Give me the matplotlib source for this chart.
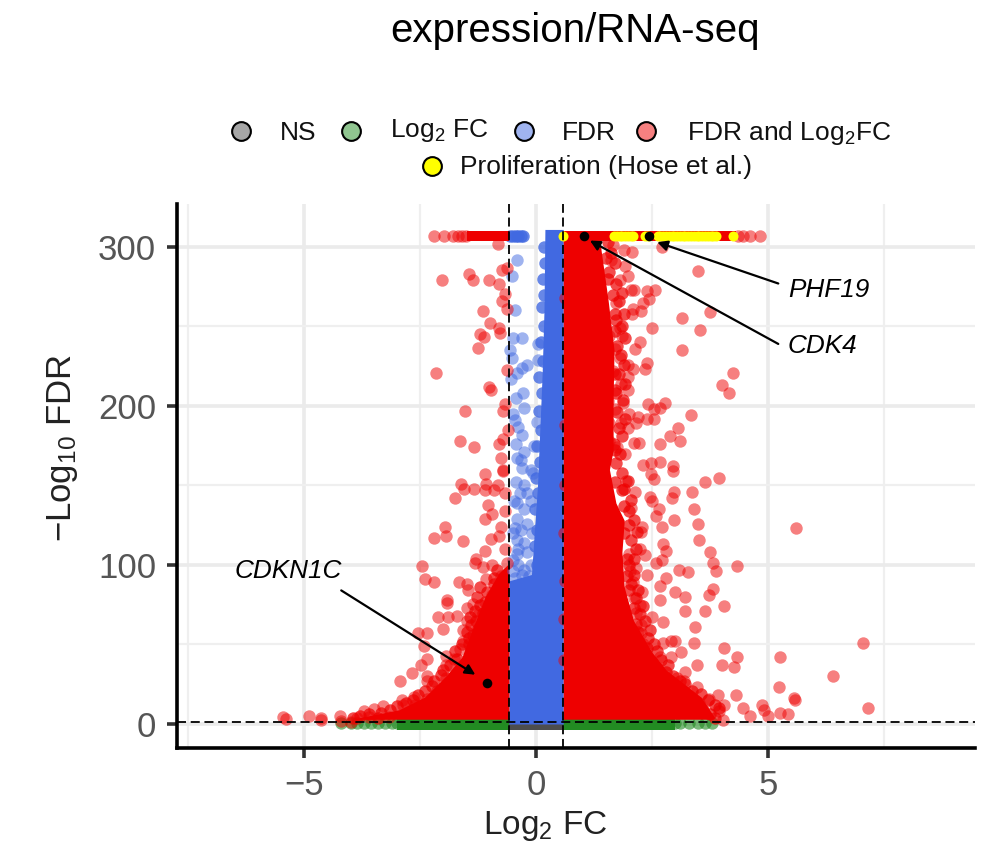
import numpy as np
import matplotlib

matplotlib.use("Agg")
import matplotlib.pyplot as plt
from matplotlib.lines import Line2D

plt.rcParams["font.family"] = ["Liberation Sans", "DejaVu Sans"]
plt.rcParams["mathtext.fontset"] = "custom"
plt.rcParams["mathtext.rm"] = "Liberation Sans"
plt.rcParams["mathtext.it"] = "Liberation Sans:italic"
plt.rcParams["mathtext.default"] = "regular"

COL_NS = "#4D4D4D"
COL_FC = "#228B22"
COL_FDR = "#4169E1"
COL_BOTH = "#EE0000"

TOP_Y = 307.0
FC_CUT = 0.585
FDR_CUT = 1.3
SIZE = 80

# outline of the solid (overplotted) areas, (-log10 fdr, log2 fc)
mass_right_y = [3, 4, 17, 34, 45, 65, 86, 108, 128, 139, 160, 172, 204, 235, 267, 298, 310]
mass_right_x = [3.8, 3.85, 3.55, 2.8, 2.5, 2.1, 1.9, 1.85, 1.9, 1.72, 1.58, 1.66, 1.66, 1.68, 1.55, 1.4, 1.36]
mass_left_y = [3, 4, 9, 17, 30, 42, 65, 80, 95, 100]
mass_left_x = [-3.9, -3.8, -2.95, -2.4, -1.95, -1.6, -1.3, -1.1, -0.8, -0.62]
blue_y = [0, 90, 94, 150, 220, 260, 311]
blue_x = [-0.585, -0.585, -0.1, 0.03, 0.13, 0.17, 0.19]

# top row, values capped at the numeric limit
top_left_solid = [-1.5, -0.585]
top_left_red = [-2.2, -1.98, -1.79, -1.68, -1.6, -1.52]
top_left_blue = [-0.56, -0.5, -0.44, -0.38, -0.32, -0.28]
top_right_solid = [0.585, 4.3]
top_right_red = [4.35, 4.45, 4.6, 4.83]
top_yellow = [0.58, 1.68, 1.74, 1.8, 1.86, 1.92, 1.98, 2.04, 2.09, 2.35, 2.41, 2.62, 2.68, 2.74, 2.8,
              2.86, 2.92, 2.98, 3.04, 3.1, 3.16, 3.22, 3.28, 3.34, 3.4, 3.46, 3.52, 3.58, 3.64, 3.7,
              3.76, 3.82, 3.88, 4.24]
genes_x = [1.03, 2.44, -1.06]
genes_y = [307, 307, 25.8]

left_red = [
    (-0.83, 302), (-0.63, 287), (-0.74, 285.5), (-1.45, 283), (-1.35, 279), (-2.03, 279), (-1.02, 279),
    (-0.81, 277), (-0.68, 270.5), (-0.74, 266), (-0.62, 261), (-1.15, 260), (-1.0, 252), (-0.79, 249),
    (-0.77, 246), (-1.2, 245), (-1.13, 243.5), (-1.25, 236.5), (-0.63, 222.5), (-2.15, 220.6), (-1.02, 212),
    (-0.97, 210), (-0.66, 201), (-0.72, 197), (-1.54, 197), (-0.61, 185), (-0.71, 179), (-0.8, 176),
    (-1.65, 178), (-1.33, 174), (-0.75, 167), (-0.71, 160), (-1.11, 157), (-0.72, 159), (-1.61, 151),
    (-1.55, 148), (-1.33, 148), (-1.11, 147), (-0.9, 147), (-0.82, 150), (-1.07, 151), (-0.67, 145),
    (-1.75, 142), (-1.03, 138), (-0.96, 132), (-1.11, 129), (-0.68, 134), (-0.75, 124), (-1.97, 124),
    (-2.19, 117), (-1.95, 118.5), (-1.58, 115), (-0.97, 116.5), (-0.79, 118), (-1.11, 109), (-0.68, 110),
    (-1.29, 104), (-1.32, 101), (-2.46, 99.5), (-0.94, 100), (-1.14, 98.5), (-0.63, 101.5), (-1.07, 91),
    (-2.4, 91), (-2.2, 89), (-1.67, 89), (-1.5, 88), (-1.47, 84), (-0.75, 93), (-1.93, 78), (-1.92, 76),
    (-1.35, 75.5), (-0.96, 81), (-0.82, 80), (-2.11, 67), (-1.9, 67), (-1.7, 68), (-1.5, 73), (-1.25, 68.5),
    (-1.11, 62.5), (-1.5, 64.5), (-2.0, 60), (-2.55, 57), (-2.35, 57), (-2.42, 49), (-1.57, 59), (-1.57, 52),
    (-1.64, 47), (-1.4, 47), (-1.22, 49), (-1.94, 43), (-1.94, 37), (-2.35, 41), (-2.48, 37), (-2.68, 32),
    (-2.93, 27), (-1.95, 29), (-2.36, 30), (-2.35, 27), (-1.77, 41), (-1.58, 30), (-1.8, 25.5), (-2.13, 21),
    (-1.9, 21), (-2.36, 16), (-2.63, 17), (-2.9, 15), (-2.87, 12), (-2.6, 12), (-3.3, 11), (-3.5, 9.5),
    (-3.7, 8), (-4.23, 5), (-4.9, 5), (-5.46, 4.5), (-5.39, 3), (-4.64, 4), (-4.64, 2.5), (-4.0, 1),
    (-3.87, 3.5), (-3.6, 4.5), (-3.17, 4.5), (-4.2, 2),
]

# bumpy edge of the left solid area
left_edge = [
    (-0.85, 97), (-0.9, 92), (-1.2, 86), (-1.28, 80), (-1.2, 75), (-1.32, 71), (-1.42, 67), (-1.4, 62),
    (-1.5, 58), (-1.45, 54), (-1.6, 50), (-1.75, 46), (-1.7, 41), (-1.85, 37), (-2.0, 34), (-2.05, 31),
    (-2.2, 27), (-2.25, 24), (-2.4, 21), (-2.55, 18), (-2.65, 15), (-2.8, 13), (-3.0, 11), (-3.15, 9),
    (-3.35, 7), (-3.6, 6), (-3.8, 5), (-3.95, 3.5), (-3.4, 3.5),
    (-0.9, 88), (-0.85, 85), (-1.05, 83), (-1.1, 77), (-1.0, 72), (-1.15, 70), (-1.3, 65), (-1.25, 60),
    (-1.35, 56), (-1.3, 52), (-1.45, 50),
]

right_red = [
    (1.89, 298), (2.07, 297), (1.66, 301), (2.72, 300), (3.49, 285), (1.62, 292), (1.91, 288), (1.98, 282),
    (1.8, 279), (2.05, 273), (2.12, 273), (2.4, 272), (2.57, 273), (2.44, 267), (1.73, 265), (2.3, 265),
    (2.27, 260), (2.09, 261), (2.07, 258), (3.74, 259), (3.14, 255), (2.5, 249), (3.54, 248), (1.81, 249),
    (1.86, 244), (1.58, 244), (2.25, 240), (2.14, 236), (1.71, 236), (3.14, 235), (1.8, 230), (1.98, 226),
    (2.09, 223), (2.38, 227), (2.35, 223), (1.66, 222), (4.24, 221), (4.0, 213), (4.15, 208), (1.98, 218),
    (1.84, 214), (1.98, 210), (1.56, 203), (1.87, 202), (1.71, 198), (2.41, 201), (2.78, 202), (2.55, 198),
    (2.66, 199), (2.0, 195), (3.33, 194), (2.19, 193), (2.39, 192), (2.55, 192), (1.84, 189), (2.16, 189),
    (1.98, 186), (1.58, 189), (3.06, 186), (2.88, 181), (3.11, 178), (2.66, 176), (2.12, 177), (2.22, 177),
    (1.58, 178), (1.74, 174), (1.91, 170), (2.66, 165), (2.48, 164), (2.3, 163), (2.95, 162), (2.95, 159),
    (2.48, 157), (2.55, 154), (3.65, 152), (3.94, 154.5), (1.93, 153), (2.14, 146), (2.97, 146), (3.37, 146),
    (2.45, 143), (2.92, 142), (2.5, 140), (3.4, 135), (2.65, 135), (2.05, 136), (2.59, 131), (2.98, 128),
    (3.5, 126), (5.6, 123.5), (2.71, 124), (2.29, 124), (2.27, 120.5), (3.51, 116), (2.73, 113), (2.79, 109),
    (3.75, 108), (2.23, 110), (2.34, 106), (2.01, 107), (2.59, 101), (2.71, 103), (3.81, 101), (4.33, 99.5),
    (3.88, 96.5), (3.09, 97), (3.27, 95.5), (2.16, 98), (2.02, 96), (2.4, 94), (2.79, 92), (2.66, 86.5),
    (2.09, 89), (2.29, 83), (3.0, 83), (3.2, 80), (3.81, 85), (3.72, 81), (2.68, 78), (4.06, 74), (2.12, 79),
    (2.23, 75), (3.22, 71), (3.63, 71), (2.16, 70), (2.5, 67), (2.73, 64), (3.42, 61), (2.27, 62), (2.27, 57),
    (2.3, 50), (3.4, 51), (2.73, 51), (2.91, 52), (2.99, 52), (4.06, 48), (3.13, 45), (4.32, 42), (5.26, 42),
    (2.9, 42), (2.66, 42), (3.47, 37), (4.0, 37), (4.26, 36), (3.2, 33), (3.03, 29), (2.73, 29), (3.18, 27),
    (7.04, 51), (6.4, 30), (5.23, 23), (3.47, 23.5), (2.8, 23), (3.92, 18), (4.31, 18), (3.72, 15.5),
    (5.56, 16.5), (5.59, 15), (7.15, 10), (4.47, 10), (4.87, 12), (4.92, 8.5), (5.0, 5), (4.6, 5), (5.25, 7),
    (5.43, 6.5), (4.04, 12), (3.95, 8), (4.03, 2.5), (3.13, 14), (3.52, 13),
    # few that poke over the cut-off line
    (0.62, 268), (0.62, 188), (0.61, 120), (0.6, 66), (0.62, 90), (0.6, 40), (0.62, 150),
]

# bumpy edge of the right solid area
right_edge = [
    (1.55, 303), (1.62, 296), (1.7, 290), (1.58, 284), (1.72, 277), (1.85, 271), (1.78, 266), (1.9, 258),
    (1.72, 254), (1.85, 250), (1.92, 243), (1.75, 238), (1.82, 232), (1.9, 226), (1.78, 220), (1.92, 214),
    (1.72, 208), (1.88, 204), (1.75, 196), (1.92, 192), (1.78, 186), (1.85, 181), (1.68, 176), (1.8, 170),
    (1.72, 164), (1.85, 158), (1.98, 153), (1.9, 148), (2.05, 141), (2.0, 134), (2.12, 128), (2.18, 121),
    (2.05, 116), (2.15, 110), (2.1, 104), (2.0, 100), (2.12, 94), (2.05, 88), (2.2, 84), (2.15, 79),
    (2.3, 74), (2.25, 69), (2.35, 65), (2.45, 59), (2.42, 54), (2.55, 50), (2.6, 46), (2.7, 40), (2.85, 37),
    (2.8, 33), (2.95, 30), (3.1, 27), (3.2, 25), (3.35, 21), (3.55, 19), (3.7, 15), (3.85, 12), (3.95, 10),
    (1.5, 293), (1.55, 280), (1.65, 270), (1.7, 258), (1.7, 247), (1.7, 220), (1.7, 210), (1.7, 172),
    (1.7, 152), (1.85, 147), (1.9, 137), (2.0, 125), (1.9, 120), (1.95, 104), (1.95, 93), (2.0, 84),
    (2.1, 73), (2.15, 63), (2.2, 58), (2.4, 48), (2.5, 39), (2.6, 35), (2.9, 24), (3.0, 20), (3.3, 15),
    (3.45, 12), (3.6, 9), (3.75, 6), (3.85, 4),
]

blue_pts = [
    (-0.42, 292), (-0.51, 282), (-0.45, 260.5), (-0.5, 243), (-0.3, 243), (0.05, 239), (-0.57, 235),
    (-0.51, 230), (0.05, 229), (-0.2, 226), (-0.42, 221), (-0.3, 224), (-0.55, 217), (-0.29, 208),
    (-0.44, 205), (-0.27, 199), (-0.5, 195), (-0.46, 191), (-0.4, 187), (-0.31, 182), (-0.44, 176),
    (-0.27, 171), (-0.41, 167), (-0.33, 166), (-0.1, 160), (-0.31, 161), (-0.07, 158), (-0.43, 152),
    (-0.26, 150), (-0.2, 145), (-0.41, 139), (-0.26, 135), (-0.42, 129), (-0.2, 126), (-0.45, 123),
    (-0.42, 116), (-0.26, 114), (-0.41, 107), (-0.2, 108), (-0.5, 103), (-0.38, 100), (-0.26, 97),
    (-0.5, 96), (-0.38, 110), (-0.5, 120), (-0.33, 122), (-0.48, 140), (-0.35, 145), (-0.12, 140),
    (-0.08, 120), (-0.1, 100), (-0.15, 88), (-0.08, 80), (-0.02, 70), (-0.05, 175), (0.02, 190),
    (-0.45, 92), (-0.3, 94), (-0.15, 93),
]

# bumpy left edge of the blue band
blue_edge = [
    (0.16, 300), (0.2, 290), (0.14, 280), (0.18, 270), (0.12, 262), (0.16, 250), (0.1, 240), (0.14, 228),
    (0.06, 218), (0.12, 208), (0.06, 197), (0.1, 185), (0.02, 175), (0.08, 165), (0.0, 155), (0.05, 145),
    (-0.02, 135), (0.03, 122), (-0.03, 112), (0.02, 100),
]

green_left = [-4.2, -4.0, -3.85, -3.7, -3.55, -3.4, -3.25, -3.1, -3.0]
green_right = [3.0, 3.1, 3.3, 3.5, 3.65, 3.8]
green_y = 0.6

x_ticks = [-5, 0, 5]
y_ticks = [0, 100, 200, 300]
x_minor = [-7.5, -2.5, 2.5, 7.5]
y_minor = [50, 150, 250]

W, H = 991, 852


def fx(px):
    return px / W


def fy(py):
    return 1 - py / H


def dots(ax, pts, col, alpha=0.5, z=2.5):
    p = np.array(pts)
    ax.scatter(p[:, 0], p[:, 1], s=SIZE, color=col, alpha=alpha, lw=0, zorder=z)


def top_row(ax, xs, col, alpha=1.0, z=2.6):
    ax.scatter(xs, [TOP_Y] * len(xs), s=SIZE, color=col, alpha=alpha, lw=0, zorder=z)


fig = plt.figure(figsize=(W / 100, H / 100), dpi=100)
ax = fig.add_axes([fx(177), fy(748), (975 - 177) / W, (748 - 204) / H])
ax.set_xlim(-7.74, 9.46)
ax.set_ylim(-15.1, 327)

# grid
ax.set_axisbelow(True)
ax.set_xticks(x_ticks)
ax.set_yticks(y_ticks)
ax.set_xticks(x_minor, minor=True)
ax.set_yticks(y_minor, minor=True)
ax.grid(which="major", color="#EBEBEB", lw=2.6)
ax.grid(which="minor", color="#EFEFEF", lw=1.6)
ax.tick_params(which="minor", length=0)
ax.tick_params(which="major", length=7, width=2.6, color="#333333", labelsize=25,
               labelcolor="#555555", pad=8)
ax.set_xticklabels(["\u22125", "0", "5"])
for s in ["top", "right"]:
    ax.spines[s].set_visible(False)
for s in ["left", "bottom"]:
    ax.spines[s].set_linewidth(2.6)

# solid areas
ax.fill_betweenx([-3.8, 3.8], -3.0, -FC_CUT, color=COL_FC, lw=0, zorder=2)
ax.fill_betweenx([-3.8, 3.8], FC_CUT, 3.0, color=COL_FC, lw=0, zorder=2)
ax.fill_betweenx([-3.8, 3.8], -FC_CUT, FC_CUT, color=COL_NS, lw=0, zorder=2.1)
ax.scatter(green_left + green_right, [green_y] * len(green_left + green_right), s=SIZE,
           color=COL_FC, alpha=0.6, lw=0, zorder=2)
ax.fill_betweenx(blue_y, blue_x, FC_CUT, color=COL_FDR, lw=0, zorder=2.2)
ax.fill_betweenx(mass_right_y, FC_CUT, mass_right_x, color=COL_BOTH, lw=0, zorder=2.3)
ax.fill_betweenx(mass_left_y, mass_left_x, -FC_CUT, color=COL_BOTH, lw=0, zorder=2.3)
ax.fill_between(top_left_solid, TOP_Y - 3.2, TOP_Y + 3.2, color=COL_BOTH, lw=0, zorder=2.6)
ax.fill_between(top_right_solid, TOP_Y - 3.2, TOP_Y + 3.2, color=COL_BOTH, lw=0, zorder=2.6)

# single points
dots(ax, blue_pts, COL_FDR, z=2.4)
dots(ax, blue_edge, COL_FDR, alpha=0.8, z=2.25)
top_row(ax, top_left_blue, COL_FDR, alpha=0.8, z=2.4)
dots(ax, left_red, COL_BOTH)
dots(ax, right_red, COL_BOTH)
dots(ax, left_edge, COL_BOTH, alpha=0.7)
dots(ax, right_edge, COL_BOTH, alpha=0.7)
top_row(ax, top_left_red, COL_BOTH, alpha=0.5)
top_row(ax, top_right_red, COL_BOTH, alpha=0.5)
ax.scatter(top_yellow, [TOP_Y] * len(top_yellow), s=52, color="#FFFF00", lw=0, zorder=3)
ax.scatter(genes_x, genes_y, s=48, color="black", lw=0, zorder=3.2)

# cut-offs
dash = (0, (5, 2.6))
ax.axvline(-FC_CUT, color="black", lw=1.3, ls=dash, zorder=4)
ax.axvline(FC_CUT, color="black", lw=1.3, ls=dash, zorder=4)
ax.axhline(FDR_CUT, color="black", lw=1.3, ls=dash, zorder=4)

# labelled genes
arrow = dict(arrowstyle="-|>", color="black", lw=1.6, mutation_scale=15, shrinkA=0, shrinkB=0)
ax.annotate("", xy=(2.61, 303), xytext=(5.22, 277), arrowprops=arrow, zorder=5)
ax.annotate("", xy=(1.16, 304), xytext=(5.22, 239), arrowprops=arrow, zorder=5)
ax.annotate("", xy=(-1.31, 31), xytext=(-4.2, 84), arrowprops=arrow, zorder=5)
ax.text(5.43, 273, "PHF19", style="italic", fontsize=18.8, va="center", ha="left", zorder=6)
ax.text(5.43, 238, "CDK4", style="italic", fontsize=18.8, va="center", ha="left", zorder=6)
ax.text(-6.49, 96, "CDKN1C", style="italic", fontsize=18.8, va="center", ha="left", zorder=6)

# texts around the panel
fig.text(fx(575), fy(31), "expression/RNA-seq", fontsize=29, ha="center", va="center")
fig.text(fx(545), fy(826), r"Log$_2$ FC", fontsize=24, color="#222222", ha="center", va="center")
fig.text(fx(62), fy(448), "\u2212Log$_{10}$ FDR", fontsize=25, color="#222222", rotation=90,
         ha="center", va="center")

# legend, hand placed because of the two centred rows
legend_marks = [(241, 131, "#A6A6A6"), (351, 131, "#90C590"), (524, 131, "#A0B4F0"),
                (646, 131, "#F68080"), (432, 166, "#FFFF00")]
legend_texts = [(280, 133, "NS"), (390, 130, r"Log$_2$ FC"), (562, 133, "FDR"),
                (687, 133, r"FDR and Log$_2$FC"), (460, 167, "Proliferation (Hose et al.)")]
for px, py, c in legend_marks:
    fig.add_artist(Line2D([fx(px)], [fy(py)], marker="o", ms=13.5, mfc=c, mec="black", mew=1.5,
                          ls="none", transform=fig.transFigure))
for px, py, t in legend_texts:
    fig.text(fx(px), fy(py), t, fontsize=19, ha="left", va="center", color="#111111")

fig.savefig("out.png", dpi=100)
